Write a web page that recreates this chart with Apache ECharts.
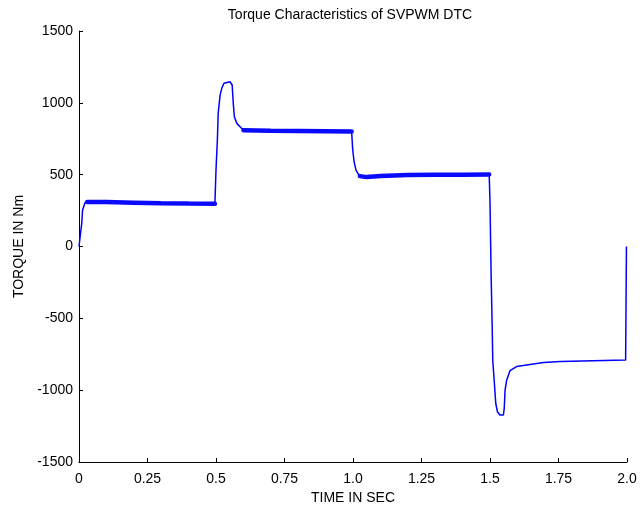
<!DOCTYPE html>
<html>
<head>
<meta charset="utf-8">
<script src="https://cdn.jsdelivr.net/npm/echarts@6/dist/echarts.min.js"></script>
<style>
  html, body { margin: 0; padding: 0; background: #fff; }
  #chart { width: 642px; height: 508px; }
</style>
</head>
<body>
<div id="chart"></div>
<script>
// torque response (sec, Nm)
const timeSec = [
  0, 0.006, 0.01, 0.013, 0.022, 0.034, 0.1, 0.2, 0.3, 0.4, 0.496,
  0.5, 0.505, 0.508, 0.515, 0.521, 0.529, 0.551, 0.559, 0.563, 0.567, 0.576, 0.594, 0.612,
  0.7, 0.8, 0.9, 0.995, 0.999, 1.004, 1.011, 1.023, 1.05, 1.098, 1.219, 1.35, 1.497,
  1.5, 1.504, 1.508, 1.51, 1.516, 1.521, 1.527, 1.536, 1.549, 1.552, 1.555, 1.561, 1.573,
  1.597, 1.634, 1.695, 1.756, 1.877, 1.995, 1.998
]
const torqueNm = [
  0, 0, 163, 254, 305, 312, 310, 306, 302, 300, 300,
  532, 741, 927, 1054, 1101, 1136, 1147, 1124, 997, 903, 857, 822, 811,
  808, 805, 803, 799, 672, 590, 532, 491, 481, 491, 497, 500, 504,
  312, -187, -558, -790, -952, -1091, -1150, -1173, -1173, -1126, -999, -929, -864,
  -836, -825, -808, -801, -795, -790, 0
]

// noisy plateaus drawn as a thicker band
const bandTime = [0.03, 0.1, 0.2, 0.3, 0.4, 0.496, null, 0.6, 0.7, 0.8, 0.9, 0.995, null, 1.025, 1.05, 1.1, 1.2, 1.3, 1.4, 1.497]
const bandTorque = [310, 309, 305, 301, 299, 298, null, 810, 806, 804, 802, 800, null, 490, 483, 490, 497, 499, 500, 502]

const xTicks = ['0', '0.25', '0.5', '0.75', '1.0', '1.25', '1.5', '1.75', '2.0']

const chart = echarts.init(document.getElementById('chart'))
const fontBase = { color: '#000', fontFamily: 'Liberation Sans, Arial, sans-serif', fontSize: 14 }
const axisLine = { onZero: false, lineStyle: { color: '#000', width: 1 } }
const axisTick = { inside: true, length: 4, lineStyle: { color: '#000' } }

chart.setOption({
  animation: false,
  title: {
    text: 'Torque Characteristics of SVPWM DTC',
    left: 345, top: 3, textAlign: 'center',
    textStyle: { ...fontBase, fontWeight: 'normal' }
  },
  // fixed plot box, don't let v6 shrink it for overflowing labels
  grid: { left: 79, right: 15, top: 31, bottom: 46, outerBoundsMode: 'none' },
  xAxis: {
    type: 'value', min: 0, max: 2, interval: 0.25,
    name: 'TIME IN SEC', nameLocation: 'middle', nameGap: 27,
    nameTextStyle: fontBase,
    axisLine, axisTick,
    axisLabel: { ...fontBase, margin: 10, formatter: (v) => xTicks[Math.round(v / 0.25)] },
    splitLine: { show: false }
  },
  yAxis: {
    type: 'value', min: -1500, max: 1500, interval: 500,
    name: 'TORQUE IN Nm', nameLocation: 'middle', nameGap: 53,
    nameTextStyle: fontBase,
    axisLine, axisTick,
    axisLabel: { ...fontBase, margin: 6, formatter: (v) => String(v) },
    splitLine: { show: false }
  },
  series: [
    {
      type: 'line',
      data: timeSec.map((t, i) => [t, torqueNm[i]]),
      showSymbol: false,
      lineStyle: { color: '#0000ff', width: 1.5 }
    },
    {
      type: 'line',
      data: bandTime.map((t, i) => (t == null ? '-' : [t, bandTorque[i]])),
      showSymbol: false,
      connectNulls: false,
      lineStyle: { color: '#0a0aff', width: 4.5, cap: 'round' }
    }
  ]
})
</script>
</body>
</html>
